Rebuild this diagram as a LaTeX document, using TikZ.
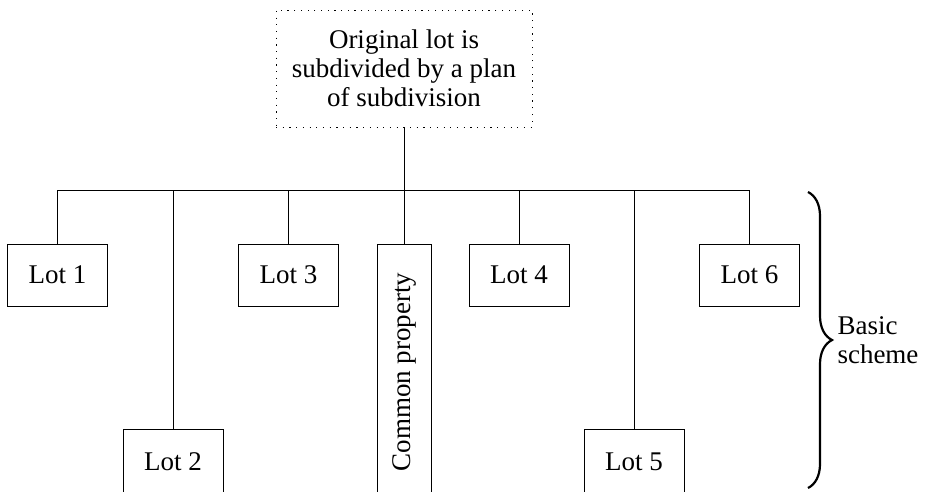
\documentclass[tikz,border=0pt]{standalone}
\usepackage{fontspec}
\setmainfont{Liberation Serif}
\usetikzlibrary{decorations.pathreplacing}
\begin{document}
\begin{tikzpicture}[x=1pt,y=-1pt,line width=1pt,
  lotbox/.style={draw,minimum width=100pt,minimum height=62pt,inner sep=0pt,font=\fontsize{27}{29}\selectfont},
  lowbox/.style={draw,minimum width=100pt,minimum height=66pt,inner sep=0pt,font=\fontsize{27}{29}\selectfont},
  topbox/.style={draw,dash pattern=on 1.2pt off 5.5pt,minimum width=256pt,minimum height=117pt,inner sep=0pt,align=center,font=\fontsize{27}{29}\selectfont},
  lbl/.style={inner sep=0pt,align=left,font=\fontsize{27}{29}\selectfont}]
\clip (0,0) rectangle (928,491);
\node[topbox] (top) at (404,68.5) {Original lot is\\subdivided by a plan\\of subdivision};
\node[lotbox] (lot1) at (57.5,275) {Lot 1};
\node[lowbox] (lot2) at (173,462) {Lot 2};
\node[lotbox] (lot3) at (288.5,275) {Lot 3};
\node[draw,rotate=90,minimum width=256pt,minimum height=54pt,inner sep=0pt,font=\fontsize{27}{29}\selectfont] (cp) at (404,372) {Common property};
\node[lotbox] (lot4) at (519,275) {Lot 4};
\node[lowbox] (lot5) at (634,462) {Lot 5};
\node[lotbox] (lot6) at (749.5,275) {Lot 6};
\coordinate (bus) at (404,190);
\draw (top.south) -- (bus);
\draw (lot1.north) -- (lot1.north |- bus) -- (lot6.north |- bus) -- (lot6.north);
\draw (lot2.north) -- (lot2.north |- bus);
\draw (lot3.north) -- (lot3.north |- bus);
\draw (cp.east) -- (cp.east |- bus);
\draw (lot4.north) -- (lot4.north |- bus);
\draw (lot5.north) -- (lot5.north |- bus);
\coordinate (bt) at (808,192);
\coordinate (bb) at (808,488);
\draw[line width=2.2pt,decorate,decoration={brace,amplitude=24pt}] (bt) -- (bb);
\node[lbl,anchor=west] (bs) at (837,340) {Basic\\scheme};
\end{tikzpicture}
\end{document}
